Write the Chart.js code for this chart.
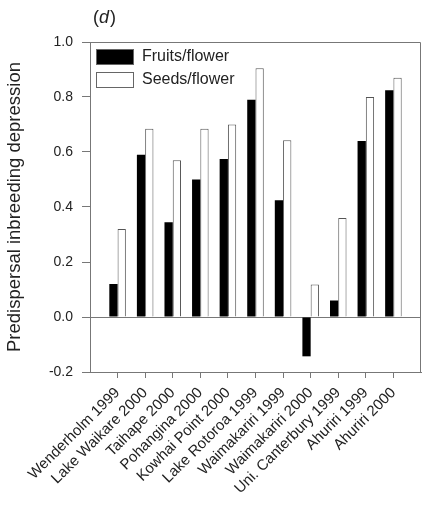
<!DOCTYPE html>
<html>
<head>
  <meta charset="utf-8">
  <title>Predispersal inbreeding depression</title>
  <style>
    body { margin: 0; background: #fff; }
  </style>
</head>
<body>
  <canvas id="grafico" width="425" height="508"></canvas>

  <script src="https://cdn.jsdelivr.net/npm/chart.js"></script>
  <script>
    // dados (d)
    const locais = ['Wenderholm 1999', 'Lake Waikare 2000', 'Taihape 2000', 'Pohangina 2000',
      'Kowhai Point 2000', 'Lake Rotoroa 1999', 'Waimakariri 1999', 'Waimakariri 2000',
      'Uni. Canterbury 1999', 'Ahuriri 1999', 'Ahuriri 2000'];
    const frutosPorFlor = [0.12, 0.59, 0.345, 0.50, 0.575, 0.79, 0.425, -0.143, 0.06, 0.64, 0.825];
    const sementesPorFlor = [0.32, 0.685, 0.57, 0.685, 0.70, 0.905, 0.643, 0.118, 0.36, 0.80, 0.87];
    const ticksY = [-0.2, 0.0, 0.2, 0.4, 0.6, 0.8, 1.0];

    const cinza = '#777';
    const texto = '#222';
    const fonte = '"Liberation Sans", Arial, sans-serif';

    // moldura de cima e da direita (os eixos desenham a de baixo e a da esquerda)
    const moldura = {
      id: 'moldura',
      afterDraw(chart) {
        const { ctx, chartArea: a } = chart;
        ctx.save();
        ctx.strokeStyle = cinza;
        ctx.lineWidth = 1;
        ctx.beginPath();
        ctx.moveTo(a.left, a.top + 0.5);
        ctx.lineTo(a.right - 0.5, a.top + 0.5);
        ctx.lineTo(a.right - 0.5, a.bottom);
        ctx.stroke();
        ctx.restore();
      }
    };

    // legenda dentro da área do gráfico e o "(d)" em cima
    const legendaInterna = {
      id: 'legendaInterna',
      afterDraw(chart) {
        const { ctx, chartArea: a } = chart;
        ctx.save();
        chart.data.datasets.forEach((ds, i) => {
          const x = a.left + 6;
          const y = a.top + 7 + i * 23;
          ctx.fillStyle = ds.backgroundColor;
          ctx.fillRect(x, y, 38, 16);
          ctx.strokeStyle = '#666';
          ctx.lineWidth = 1;
          ctx.strokeRect(x + 0.5, y + 0.5, 37, 15);
          ctx.fillStyle = texto;
          ctx.font = '16px ' + fonte;
          ctx.textBaseline = 'middle';
          ctx.fillText(ds.label, x + 46, y + 8);
        });
        // rótulo do painel
        ctx.textBaseline = 'middle';
        ctx.font = '18px ' + fonte;
        let px = 93;
        ctx.fillText('(', px, 18);
        px += ctx.measureText('(').width;
        ctx.font = 'italic 18px ' + fonte;
        ctx.fillText('d', px, 18);
        px += ctx.measureText('d').width + 1;
        ctx.font = '18px ' + fonte;
        ctx.fillText(')', px, 18);
        ctx.restore();
      }
    };

    const ctx = document.getElementById('grafico');
    new Chart(ctx, {
      type: 'bar',
      data: {
        datasets: [{
          label: 'Fruits/flower',
          data: frutosPorFlor.map((v, i) => ({ x: i, y: v })),
          backgroundColor: '#000',
          borderColor: '#000',
          borderWidth: 0
        }, {
          label: 'Seeds/flower',
          data: sementesPorFlor.map((v, i) => ({ x: i, y: v })),
          backgroundColor: '#fff',
          borderColor: '#555',
          borderWidth: 1
        }]
      },
      options: {
        responsive: false,
        animation: false,
        categoryPercentage: 0.6,
        barPercentage: 1.0,
        layout: { padding: { top: 42, right: 4, left: 0, bottom: 0 } },
        plugins: {
          legend: { display: false },
          tooltip: { enabled: false }
        },
        scales: {
          x: {
            type: 'linear',
            offset: false,
            min: -1,
            max: 11,
            afterFit: (s) => { s.height = 136; },
            afterBuildTicks: (s) => {
              s.ticks = locais.map((_, i) => ({ value: i }));
            },
            ticks: {
              autoSkip: false,
              stepSize: 1,
              minRotation: 45,
              maxRotation: 45,
              padding: 6,
              color: texto,
              font: { family: fonte, size: 15 },
              callback: (v) => locais[v] ?? ''
            },
            grid: {
              offset: false,
              drawOnChartArea: false,
              drawTicks: true,
              tickLength: 6,
              tickColor: cinza
            },
            border: { display: true, color: cinza, width: 1 }
          },
          y: {
            min: ticksY[0],
            max: ticksY[ticksY.length - 1],
            afterFit: (s) => { s.width = 90; },
            afterBuildTicks: (s) => {
              s.ticks = ticksY.map((v) => ({ value: v }));
            },
            ticks: {
              padding: 9,
              color: texto,
              font: { family: fonte, size: 14 },
              callback: (v) => Number(v).toFixed(1)
            },
            grid: {
              drawTicks: true,
              tickLength: 8,
              tickColor: cinza,
              color: (c) => (c.tick && Math.abs(c.tick.value) < 1e-9 ? cinza : 'rgba(0,0,0,0)'),
              lineWidth: 1
            },
            border: { display: true, color: cinza, width: 1 },
            title: {
              display: true,
              text: 'Predispersal inbreeding depression',
              color: texto,
              font: { family: fonte, size: 18.5 },
              padding: { top: 4, bottom: 0 }
            }
          }
        }
      },
      plugins: [moldura, legendaInterna]
    });
  </script>
</body>
</html>
